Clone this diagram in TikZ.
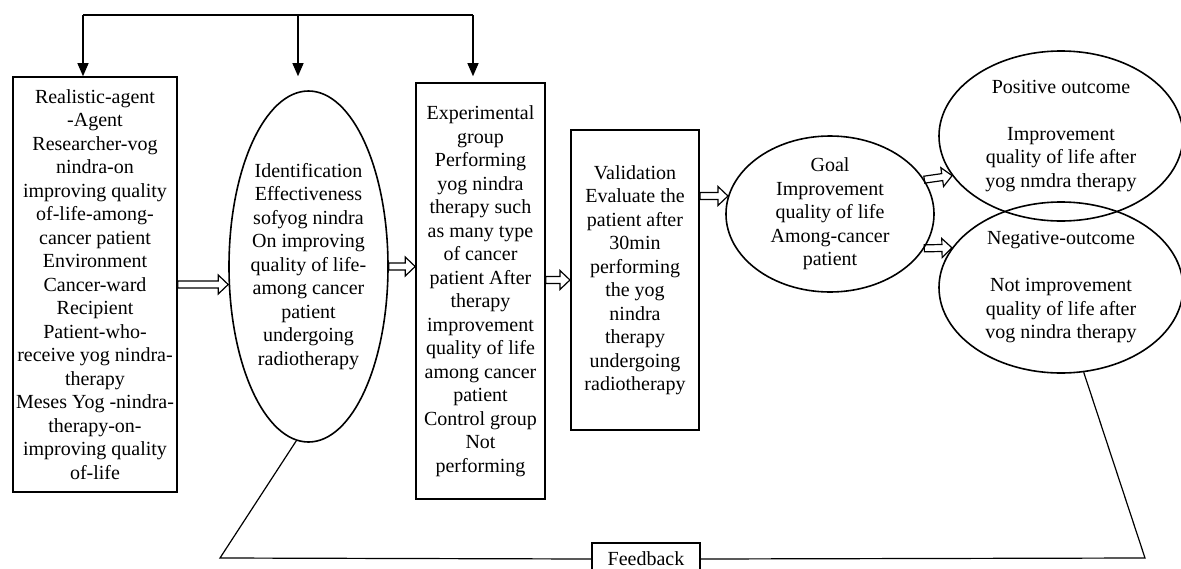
\documentclass[tikz,border=0pt]{standalone}
\usepackage{fontspec}
\setmainfont{Liberation Serif}
\usetikzlibrary{arrows.meta}
\usetikzlibrary{shapes.geometric}
\usetikzlibrary{calc}
\tikzset{box/.style = {draw, line width = 1.6pt, align = center, inner sep = 0pt}}
\tikzset{oval/.style = {draw, ellipse, line width = 1.6pt, inner sep = 0}}
\tikzset{txt/.style = {align = center, inner sep = 0}}
\tikzset{tip/.style = {line width = 1.2pt, -{Triangle[length = 13pt, width = 11pt]}}}
\tikzset{hollow/.style = {to path = {
  ($(\tikztostart)!3.5pt!90:(\tikztotarget)$)
  -- ($(\tikztotarget)!10pt!(\tikztostart)!3.5pt!90:(\tikztotarget)$)
  -- ($(\tikztotarget)!10pt!(\tikztostart)!9.5pt!90:(\tikztotarget)$)
  -- (\tikztotarget)
  -- ($(\tikztotarget)!10pt!(\tikztostart)!9.5pt!-90:(\tikztotarget)$)
  -- ($(\tikztotarget)!10pt!(\tikztostart)!3.5pt!-90:(\tikztotarget)$)
  -- ($(\tikztostart)!3.5pt!-90:(\tikztotarget)$) -- cycle}}}

\begin{document}
\begin{tikzpicture}[x = 1pt, y = -1pt, font = \fontsize{20}{23.5}\selectfont]
  \useasboundingbox (0, 0) rectangle (1181, 568);

  \node [box, minimum width = 164pt, minimum height = 415pt] (b1) at (95, 284.5)
    {Realistic-agent\\-Agent\\Researcher-vog\\nindra-on\\improving quality\\of-life-among-\\cancer patient\\Environment\\Cancer-ward\\Recipient\\Patient-who-\\receive yog nindra-\\therapy\\Meses Yog -nindra-\\therapy-on-\\improving quality\\of-life};
  \node [oval, minimum width = 159pt, minimum height = 351pt,
    label = {[txt]center:{Identification\\Effectiveness\\sofyog nindra\\On improving\\quality of life-\\among cancer\\patient\\undergoing\\radiotherapy}}] (e1) at (308.5, 266.5) {};
  \node [box, minimum width = 129pt, minimum height = 416pt] (b3) at (480.5, 291)
    {Experimental\\group\\Performing\\yog nindra\\therapy such\\as many type\\of cancer\\patient After\\therapy\\improvement\\quality of life\\among cancer\\patient\\Control group\\Not\\performing};
  \node [box, minimum width = 128.5pt, minimum height = 300pt] (b4) at (635, 280)
    {Validation\\Evaluate the\\patient after\\30min\\performing\\the yog\\nindra\\therapy\\undergoing\\radiotherapy};
  \node [oval, minimum width = 208pt, minimum height = 156pt,
    label = {[txt]center:{Goal\\Improvement\\quality of life\\Among-cancer\\patient}}] (goal) at (830, 214) {};
  \node [oval, minimum width = 244pt, minimum height = 170pt,
    label = {[txt]center:{Positive outcome\\[23.5pt]Improvement\\quality of life after\\yog nmdra therapy}}] (pos) at (1061, 136) {};
  \node [oval, minimum width = 244pt, minimum height = 171pt,
    label = {[txt]center:{Negative-outcome\\[23.5pt]Not improvement\\quality of life after\\vog nindra therapy}}] (neg) at (1061, 287.5) {};
  \node [box, minimum width = 108pt, minimum height = 32pt] (fb) at (646, 559) {Feedback};

  \coordinate (t1) at (83, 15);
  \coordinate (t2) at (298, 15);
  \coordinate (t3) at (473, 15);
  \coordinate (fbL) at (220, 558);
  \coordinate (fbR) at (1145, 558);

  \draw [line width = 1.2pt] (t1) -- (t3);
  \foreach \c in {t1, t2, t3} {
    \draw [tip] (\c) -- (\c |- b1.north);
  }

  \draw [line width = 1.2pt] (b1.east) to [hollow] (e1.west |- b1.east);
  \draw [line width = 1.2pt] (e1.east) to [hollow] (e1.east -| b3.west);
  \draw [line width = 1.2pt] (b3.east |- b4.west) to [hollow] (b4.west);
  \draw [line width = 1.2pt] (b4.east |- goal.170) to [hollow] (goal.170);
  \draw [line width = 1.2pt] (goal.20) to [hollow] (pos.200);
  \draw [line width = 1.2pt] (goal.-20) to [hollow] (neg.160);

  \draw [line width = 1.2pt] (e1.266) -- (fbL) -- (fb.west);
  \draw [line width = 1.2pt] (fb.east) -- (fbR) -- (neg.285);
\end{tikzpicture}
\end{document}
